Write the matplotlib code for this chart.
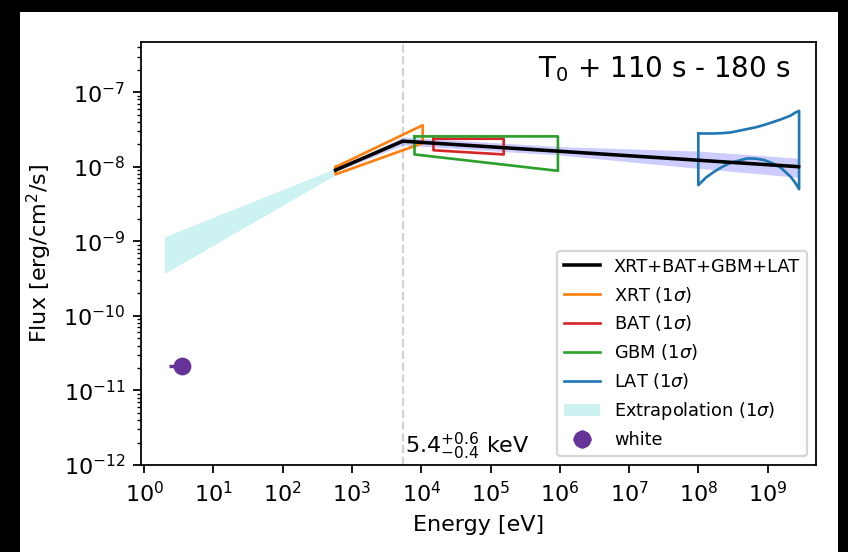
import numpy as np
import matplotlib
matplotlib.use('Agg')
import matplotlib.pyplot as plt
from matplotlib.patches import Rectangle, Patch
from matplotlib.lines import Line2D
from matplotlib.ticker import NullLocator

# joint fit XRT+BAT+GBM+LAT (broken power law, nuFnu)
fit_E = [5.8e2, 5.4e3, 2.8e9]
fit_F = [9.0e-9, 2.2e-8, 1.0e-8]
band_E = [5.8e2, 5.4e3, 1e6, 1e8, 2.8e9]
band_hi = [9.3e-9, 2.5e-8, 1.86e-8, 1.62e-8, 1.3e-8]
band_lo = [8.6e-9, 1.95e-8, 1.43e-8, 9.5e-9, 7.2e-9]

# single-instrument bowties (1 sigma)
xrt_E = [5.8e2, 1.05e4]
xrt_hi = [9.9e-9, 3.6e-8]
xrt_lo = [7.9e-9, 2.07e-8]
bat_E = [1.5e4, 1.55e5]
bat_hi = [2.37e-8, 2.37e-8]
bat_lo = [1.66e-8, 1.46e-8]
gbm_E = [8e3, 9.4e5]
gbm_hi = [2.55e-8, 2.55e-8]
gbm_lo = [1.46e-8, 8.8e-9]
lat_E = [1.0e8, 1.3e8, 1.69e8, 2.23e8, 2.94e8, 5.1e8, 6.8e8, 8.9e8, 1.18e9, 1.55e9, 2.16e9, 2.5e9, 2.85e9]
lat_hi = [2.79e-8, 2.79e-8, 2.79e-8, 2.82e-8, 2.88e-8, 3.2e-8, 3.38e-8, 3.63e-8, 3.95e-8, 4.3e-8,
          4.86e-8, 5.3e-8, 5.6e-8]
lat_lo = [5.67e-9, 7.2e-9, 8.55e-9, 1.0e-8, 1.13e-8, 1.29e-8, 1.28e-8, 1.23e-8, 1.11e-8, 9.7e-9,
          7.3e-9, 6.1e-9, 5.0e-9]

# extrapolation to optical
ext_E = [1.96, 5.8e2]
ext_hi = [1.15e-9, 9.5e-9]
ext_lo = [3.7e-10, 7.8e-9]

# optical (white filter)
white_E = 3.57
white_F = 2.1e-11
white_xerr = [[1.3], [0.6]]
white_yerr = 2e-12

E_break = 5.4e3

fig = plt.figure(figsize=(5.3, 3.45), dpi=160)
fig.patch.set_facecolor('black')
fig.add_artist(Rectangle((20/848, 0), (838-20)/848, (552-12)/552, transform=fig.transFigure,
                         facecolor='white', edgecolor='none', zorder=-10))
ax = fig.add_axes([141/848, 1-465/552, 675/848, 423/552])

def outline(E, hi, lo):
    E = np.asarray(E); hi = np.asarray(hi); lo = np.asarray(lo)
    return np.r_[E, E[::-1], E[:1]], np.r_[hi, lo[::-1], hi[:1]]

ax.axvline(E_break, color='lightgray', ls='--', lw=1.0, zorder=0)
ax.fill_between(band_E, band_lo, band_hi, color='blue', alpha=0.2, lw=0)
ax.fill_between(ext_E, ext_lo, ext_hi, color='c', alpha=0.2, lw=0)
ax.plot(*outline(xrt_E, xrt_hi, xrt_lo), color='C1', lw=1.2)
ax.plot(*outline(bat_E, bat_hi, bat_lo), color='C3', lw=1.2)
ax.plot(*outline(gbm_E, gbm_hi, gbm_lo), color='C2', lw=1.2)
ax.plot(*outline(lat_E, lat_hi, lat_lo), color='C0', lw=1.2)
ax.plot(fit_E, fit_F, color='k', lw=1.6)
ax.errorbar(white_E, white_F, xerr=white_xerr, yerr=white_yerr, fmt='o',
            color='rebeccapurple', ms=7, elinewidth=1.5)

ax.set_xscale('log')
ax.set_yscale('log')
ax.set_xlim(0.9, 5e9)
ax.set_ylim(1e-12, 4.7e-7)
ax.set_xticks([10.0**k for k in range(10)])
ax.xaxis.set_minor_locator(NullLocator())
ax.tick_params(labelsize=10)
ax.set_xlabel('Energy [eV]', fontsize=10)
ax.set_ylabel('Flux [erg/cm$^2$/s]', fontsize=10)

ax.text(0.962, 0.936, 'T$_0$ + 110 s - 180 s', transform=ax.transAxes,
        ha='right', va='center', fontsize=12.5)
ax.text(5.9e3, 0.008, '5.4$^{+0.6}_{-0.4}$ keV', transform=ax.get_xaxis_transform(),
        ha='left', va='bottom', fontsize=10)

handles = [Line2D([], [], color='k', lw=1.6), Line2D([], [], color='C1', lw=1.2),
           Line2D([], [], color='C3', lw=1.2), Line2D([], [], color='C2', lw=1.2),
           Line2D([], [], color='C0', lw=1.2), Patch(color='c', alpha=0.2, lw=0),
           ax.containers[0]]
labels = ['XRT+BAT+GBM+LAT', 'XRT (1$\\sigma$)', 'BAT (1$\\sigma$)', 'GBM (1$\\sigma$)',
          'LAT (1$\\sigma$)', 'Extrapolation (1$\\sigma$)', 'white']
ax.legend(handles, labels, loc='lower right', fontsize=8)

fig.savefig('out.png', dpi=160, facecolor=fig.get_facecolor())
